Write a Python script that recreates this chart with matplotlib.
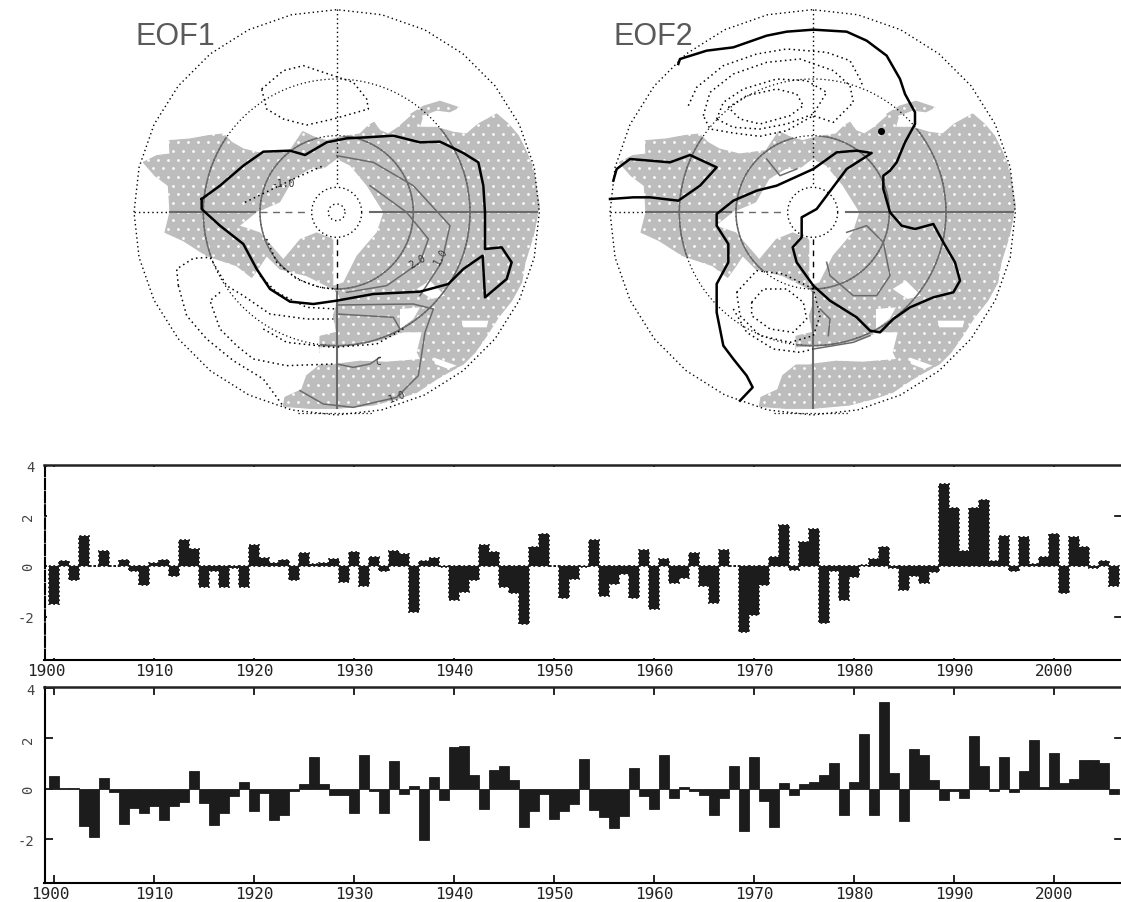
import numpy as np
import matplotlib
matplotlib.use('Agg')
import matplotlib.pyplot as plt
from matplotlib.patches import Polygon
from matplotlib.transforms import ScaledTranslation

years = list(range(1900, 2007))
pc1 = [-1.48,0.2,-0.53,1.2,0.02,0.6,0.0,0.27,-0.17,-0.76,0.13,0.27,-0.4,1.05,0.68,-0.82,-0.2,-0.82,-0.07,-0.82,
       0.83,0.33,0.13,0.27,-0.53,0.52,0.1,0.13,0.3,-0.63,0.55,-0.8,0.37,-0.2,0.62,0.5,-1.83,0.22,0.33,-0.03,
       -1.35,-1.0,-0.53,0.85,0.58,-0.83,-1.07,-2.3,0.75,1.28,0.03,-1.25,-0.5,-0.03,1.05,-1.18,-0.7,-0.3,-1.25,0.66,
       -1.7,0.3,-0.68,-0.46,0.52,-0.8,-1.47,0.65,0.03,-2.6,-1.93,-0.75,0.36,1.65,-0.15,0.96,1.5,-2.23,-0.2,-1.35,
       -0.43,0.04,0.3,0.75,-0.05,-0.95,-0.37,-0.65,-0.23,3.25,2.3,0.6,2.3,2.62,0.22,1.2,-0.2,1.15,0.08,0.37,
       1.27,-1.05,1.18,0.75,-0.08,0.2,-0.8]
pc2 = [0.5,0.03,0.05,-1.48,-1.93,0.42,-0.12,-1.4,-0.76,-0.95,-0.7,-1.22,-0.67,-0.53,0.7,-0.55,-1.45,-0.95,-0.3,0.27,
       -0.9,-0.17,-1.22,-1.02,-0.1,0.2,1.27,0.2,-0.24,-0.24,-0.95,1.33,-0.1,-0.95,1.1,-0.2,0.12,-2.03,0.47,-0.43,
       1.64,1.69,0.55,-0.8,0.75,0.9,0.33,-1.52,-0.9,-0.2,-1.18,-0.87,-0.6,1.18,-0.84,-1.13,-1.55,-1.09,0.84,-0.3,
       -0.8,1.35,-0.38,0.07,-0.07,-0.26,-1.02,-0.37,0.9,-1.68,1.25,-0.5,-1.52,0.22,-0.26,0.2,0.26,0.55,1.04,-1.02,
       0.29,2.18,-1.02,3.46,0.64,-1.26,1.59,1.34,0.35,-0.45,-0.1,-0.37,2.09,0.92,-0.07,1.27,-0.14,0.7,1.93,0.07,
       1.42,0.25,0.38,1.13,1.13,1.01,-0.2]
decades = list(range(1900, 2001, 10))
decade_labels = [str(d) for d in decades]
ytick_vals = [-2, 0, 2, 4]

land_main = [(70,490),(110,470),(150,465),(148,425),(210,420),(265,410),(310,405),(335,430),(370,450),(430,465),(510,455),
             (530,425),(548,398),(585,415),(620,425),(670,412),(720,405),(745,380),(762,370),(780,395),(805,405),(835,385),(880,345),
             (895,385),(950,385),(1000,400),(1040,405),(1075,375),(1130,345),(1165,375),(1195,410),(1220,460),
             (1240,510),(1258,620),(1240,710),(1215,790),(1205,850),(1175,905),(1135,955),(1100,1010),(1065,1060),(1030,1095),
             (985,1120),(950,1140),(890,1180),(830,1200),(760,1218),(650,1228),(570,1228),(490,1222),(495,1195),(545,1172),
             (560,1130),(600,1098),(650,1098),(600,1060),(600,1012),(650,1000),(640,950),(660,890),(640,870),(560,830),(480,810),(440,770),
             (420,800),(395,835),(350,800),(260,770),(190,725),(135,700),(150,640),(145,560),(105,530),(70,490)]
land_islet = [(870,345),(910,320),(960,305),(1020,325),(990,340),(950,335),(910,350),(900,385)]
hole_pole = [(610,510),(650,480),(690,500),(740,560),(790,640),(770,700),(710,770),(670,850),(640,860),(640,720),
             (590,700),(540,720),(490,780),(455,740),(420,700),(360,680),(410,640),(480,610),(520,540),(570,510)]
hole_band = [(600,1045),(700,1040),(780,1025),(850,1000),(905,1000),(890,1060),(900,1080),(800,1088),(720,1085),(640,1095),(600,1070)]
hole_a = [(840,930),(900,925),(880,960),(840,990)]
hole_b = [(890,870),(930,845),(975,890),(935,900)]
hole_c = [(1025,965),(1105,965),(1100,985),(1030,985)]
hole_d = [(940,1075),(1010,1100),(985,1110),(945,1095)]
land_holes = [hole_pole, hole_band, hole_a, hole_b, hole_c, hole_d]

eof1_thick = [(245,600),(300,560),(370,500),(430,458),(510,455),(555,468),(620,430),(680,418),(740,415),(820,410),
              (900,430),(960,428),(1030,462),(1075,490),(1090,560),(1095,640),(1095,750),(1145,745),(1175,790),
              (1160,840),(1095,895),(1088,770),(1030,810),(985,855),(900,878),(760,885),(650,905),(580,915),
              (510,908),(450,870),(410,810),(370,735),(300,680),(245,630),(245,600)]
eof1_dotted = [
    [(425,270),(490,215),(550,200),(640,230),(700,250),(740,300),(745,330),(640,360),(560,378),(490,360),(440,330),(425,270)],
    [(175,860),(170,810),(220,778),(270,775),(320,860),(370,890),(450,945),(560,960),(640,960)],
    [(175,860),(200,950),(260,1020),(340,1085),(430,1140),(490,1222)],
    [(300,880),(270,905),(300,990),(350,1040),(400,1080),(500,1100),(640,1095)],
    [(430,990),(500,1030),(640,1045),(770,1035),(850,990)],
    [(440,720),(470,790),(530,840),(600,865),(650,870)],
    [(420,830),(470,880),(560,925),(650,930)],
    [(375,610),(520,540),(610,500)],
]
eof1_gray = [
    [(650,470),(760,490),(880,560),(990,680),(965,790),(900,890)],
    [(650,918),(880,915),(940,930),(915,1000),(895,1130),(830,1195),(700,1225),(610,1215),(540,1175)],
    [(650,945),(820,955),(840,990)],
    [(650,1095),(700,1105),(750,1095),(780,1075)],
    [(750,560),(860,640),(925,720),(900,790),(800,860),(680,880)],
]
eof2_thick = [(235,195),(240,180),(320,155),(400,145),(500,110),(560,98),(640,92),(740,98),(800,125),(860,170),
              (900,240),(915,285),(945,340),(945,375),(915,430),(890,490),(870,515),(850,530),(850,570),(870,640),
              (905,680),(945,690),(1000,675),(1030,730),(1065,790),(1080,845),(1060,880),(1000,895),(930,925),
              (880,960),(840,1000),(810,995),(770,955),(690,905),(640,860),(590,790),(578,745),(605,715),(605,655),
              (650,630),(680,590),(740,510),(815,462),(770,455),(710,460),(640,510),(530,560),(470,575),(400,605),
              (350,645),(350,680),(385,735),(385,790),(350,855),(350,940),(370,1040),(400,1080),(440,1130),
              (458,1165),(420,1205)]
eof2_blob = [(30,600),(100,595),(150,595),(235,605),(300,560),(350,505),(270,468),(210,490),(150,485),(90,480),
             (50,510),(40,545)]
eof2_dotted = [
    [(265,320),(290,265),(370,200),(470,165),(560,150),(680,160),(750,185),(780,240),(790,265)],
    [(310,350),(330,280),(400,225),(500,190),(600,180),(700,215),(750,260),(760,310),(700,370),(640,350),(560,395),(480,412),(400,402),(330,390),(310,350)],
    [(350,360),(370,310),(430,270),(530,240),(620,245),(680,280),(640,345),(560,375),(480,390),(400,385),(350,360)],
    [(385,325),(440,290),(530,270),(590,285),(610,320),(570,350),(480,375),(420,360),(385,325)],
    [(455,910),(490,870),(560,870),(610,910),(620,960),(580,1000),(510,990),(455,950),(455,910)],
    [(410,880),(470,815),(550,825),(640,870),(660,950),(640,1010),(570,1030),(480,1010),(420,950),(410,880)],
    [(400,930),(440,1000),(520,1050),(600,1060),(640,1050)],
]
eof2_gray = [
    [(740,700),(800,680),(850,730),(870,830),(830,890),(760,890),(690,830),(680,790)],
    [(640,1050),(760,1030),(810,1010)],
    [(500,480),(540,530),(590,510)],
    [(660,930),(690,960),(685,1010)],
]
eof2_spot = [(843,396)]
map1_notes = [(490,552,'-1.0',0),(892,785,'2.0',30),(962,770,'1.0',60),(830,1192,'1.0',20),(775,1085,'C',0)]

W, H = 1121, 903
BLACK = '#1c1c1c'
GRAY = '#bdbdbd'
LINE = '#6a6a6a'
DOT = (0, (1, 2.2))
fig = plt.figure(figsize=(W/100, H/100), dpi=100, facecolor='white')


def px_axes(x0, y0, x1, y1):
    return fig.add_axes([x0/W, 1-y1/H, (x1-x0)/W, (y1-y0)/H])


def draw_map(left, cx, title, tx, thick, dotted, gray, notes=(), inner=()):
    ax = px_axes(left, 0, left+430, 430)
    ax.set_xlim(0, 1290); ax.set_ylim(1290, 0); ax.axis('off')
    shift = cx-650
    cy = 640
    sh = lambda pts: [(x+shift, y) for x, y in pts]
    main = Polygon(sh(land_main), closed=True, fc=GRAY, ec=GRAY, lw=0.8, zorder=1)
    ax.add_patch(main)
    ax.add_patch(Polygon(sh(land_islet), closed=True, fc=GRAY, ec='none', zorder=1))
    for h in land_holes:
        ax.add_patch(Polygon(sh(h), closed=True, fc='white', ec='none', zorder=2))
    gx, gy = np.meshgrid(np.arange(40, 1280, 30), np.arange(40, 1260, 26))
    gx = gx.astype(float); gx[1::2] += 15
    ax.scatter(gx.ravel()+shift, gy.ravel(), s=4, c='white', linewidths=0, zorder=3)
    t = np.linspace(0, 2*np.pi, 361)
    for r in (400, 230):
        ax.plot(cx+r*np.cos(t), cy+r*np.sin(t), color='black', lw=0.9, ls=DOT, zorder=4)
        l, = ax.plot(cx+r*np.cos(t), cy+r*np.sin(t), color=LINE, lw=1.1, zorder=4)
        l.set_clip_path(main)
    for r in (75,) + tuple(inner):
        ax.plot(cx+r*np.cos(t), cy+r*np.sin(t), color='black', lw=1.0, ls=DOT, zorder=4)
    tt = np.linspace(0, 2*np.pi, 29)
    ax.plot(cx+608*np.cos(tt), cy+608*np.sin(tt), color='black', lw=1.0, ls=DOT, zorder=4)
    ax.plot([cx, cx], [30, 560], color='black', lw=1.0, ls=DOT, zorder=4)
    ax.plot([cx, cx], [720, 880], color='black', lw=1.0, ls=(0, (4, 4)), zorder=4)
    ax.plot([cx, cx], [880, 1228], color=LINE, lw=1.5, zorder=4)
    ax.plot([cx-608, cx-500], [cy, cy], color='black', lw=1.0, ls=DOT, zorder=4)
    ax.plot([cx-500, cx-245], [cy, cy], color=LINE, lw=1.5, zorder=4)
    ax.plot([cx-230, cx-80], [cy, cy], color=LINE, lw=1.0, ls=(0, (5, 4)), zorder=4)
    ax.plot([cx+100, cx+600], [cy, cy], color=LINE, lw=1.5, zorder=4)
    ax.plot([cx-115, cx+110], [1243, 1243], color='black', lw=0.9, ls=DOT, zorder=4)
    for c in dotted:
        x, y = zip(*c)
        ax.plot(x, y, color='black', lw=1.1, ls=DOT, zorder=5)
    for c in gray:
        x, y = zip(*c)
        ax.plot(x, y, color=LINE, lw=1.1, zorder=5)
    for c in thick:
        x, y = zip(*c)
        ax.plot(x, y, color='black', lw=1.8, zorder=6, solid_joinstyle='round')
    for x, y, s, rot in notes:
        ax.text(x, y, s, fontsize=7, color='#333333', ha='center', va='center',
                rotation=rot, zorder=7, family='DejaVu Sans Mono')
    ax.text(tx, 110, title, fontsize=22, color='#5a5a5a', ha='left', va='center',
            family='Liberation Sans', zorder=8)
    return ax


draw_map(120, 650, 'EOF1', 45, [eof1_thick], eof1_dotted, eof1_gray, map1_notes, inner=(25,))
ax2 = draw_map(600, 638, 'EOF2', 40, [eof2_thick, eof2_blob], eof2_dotted, eof2_gray)
ax2.scatter(*zip(*eof2_spot), s=26, c='black', marker='o', linewidths=0, zorder=7)


def draw_bars(y0, y1, values, solid):
    ax = px_axes(44.5, y0, W, y1)
    ax.set_xlim(1899.05, 2006.7)
    ymax = 4.04
    ymin = ymax-(y1-y0)/25.2
    ax.set_ylim(ymin, ymax)
    ax.bar(years, values, width=0.92, color=BLACK,
           edgecolor=BLACK, linewidth=0.6 if solid else 1.3,
           linestyle='-' if solid else (0, (1, 1.4)), zorder=3)
    ax.spines['right'].set_visible(False)
    ax.spines['top'].set_linewidth(1.8)
    ax.spines['top'].set_color('#222222')
    ax.spines['left'].set_linewidth(1.5)
    ax.spines['bottom'].set_linewidth(1.5)
    if solid:
        ax.spines['bottom'].set_linestyle((0, (2, 1)))
    else:
        ax.spines['left'].set_linestyle((0, (5, 1.3)))
    ax.set_xticks(decades)
    ax.set_xticklabels(decade_labels, family='DejaVu Sans Mono', fontsize=11.5, color='#222222')
    ax.set_yticks(ytick_vals)
    ax.set_yticklabels(['-2', '0', '2', '4'], family='DejaVu Sans Mono', fontsize=10, color='#444444')
    for lab, v in zip(ax.get_yticklabels(), ytick_vals):
        if v in (0, 2):
            lab.set_rotation(90); lab.set_va('center')
    tl = 8 if solid else 2.5
    ax.tick_params(axis='x', direction='in', top=True, bottom=True, length=tl*0.72, width=1.2, pad=2.5)
    ax.tick_params(axis='y', direction='in', left=True, right=False, length=tl*0.72, width=1.2, pad=7)
    dx = -4 if solid else -8
    first = ax.get_xticklabels()[0]
    first.set_transform(first.get_transform()+ScaledTranslation(dx/100, 0, fig.dpi_scale_trans))
    for v in (-2, 2):
        ax.plot([1.0-0.006, 1.0], [v, v], transform=ax.get_yaxis_transform(), color='black', lw=1.2, clip_on=False)
    return ax


draw_bars(465.5, 660.5, pc1, False)
draw_bars(688, 884, pc2, True)

fig.savefig('out.png', dpi=100, facecolor='white')
